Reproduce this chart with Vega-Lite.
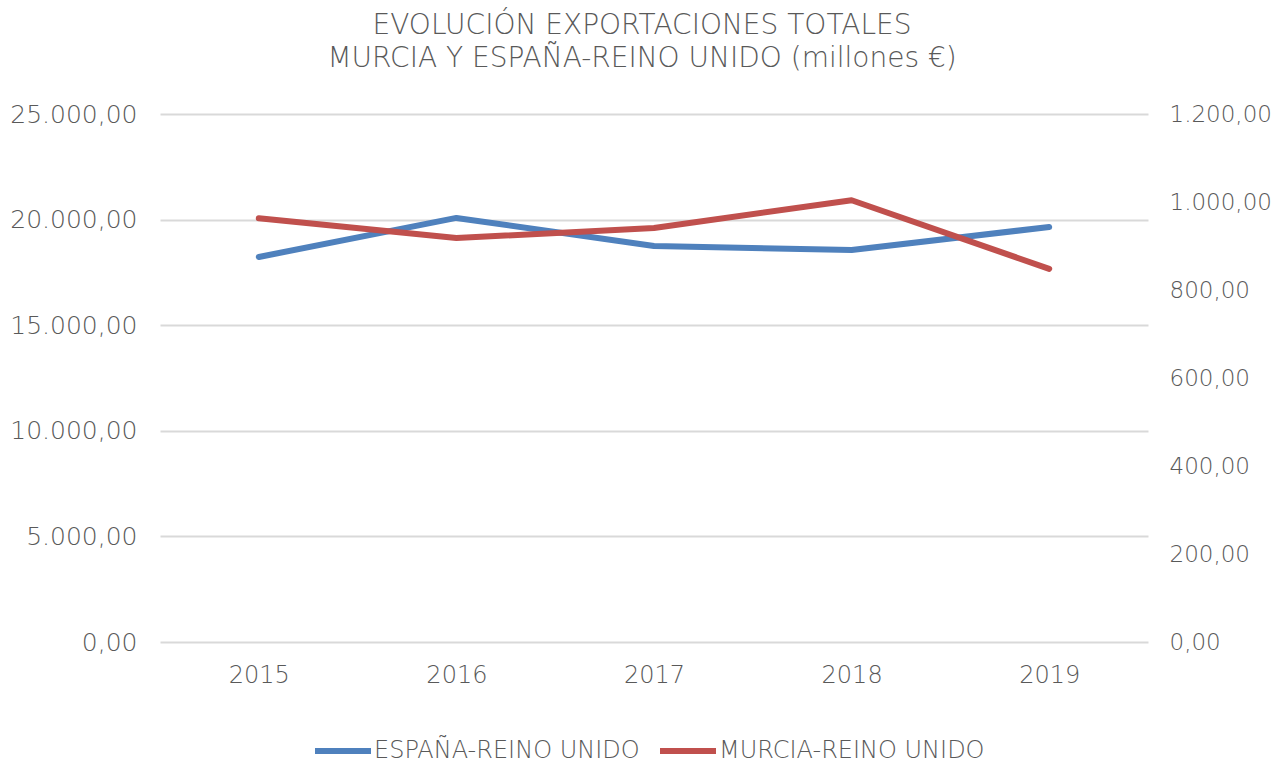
{
  "$schema": "https://vega.github.io/schema/vega-lite/v6.json",
  "autosize": "none",
  "width": 988,
  "height": 528,
  "padding": {"left": 160, "top": 114, "right": 128, "bottom": 121},
  "background": "#ffffff",
  "config": {
    "locale": {"number": {"decimal": ",", "thousands": ".", "grouping": [3], "currency": ["", " €"]}},
    "font": "DejaVu Sans",
    "view": {"stroke": null},
    "axis": {"labelFont": "DejaVu Sans", "labelFontWeight": 200, "labelFontSize": 24, "labelColor": "#595959", "domain": false, "ticks": false, "title": null},
    "legend": {"labelFont": "DejaVu Sans", "labelFontWeight": 200, "labelFontSize": 24, "labelColor": "#595959", "labelLimit": 500}
  },
  "title": {
    "text": ["EVOLUCIÓN EXPORTACIONES TOTALES", "MURCIA Y ESPAÑA-REINO UNIDO (millones €)"],
    "font": "DejaVu Sans",
    "fontWeight": 200,
    "fontSize": 28,
    "lineHeight": 33,
    "color": "#595959",
    "anchor": "middle",
    "frame": "group",
    "dx": -12,
    "offset": 29
  },
  "data": {
    "values": [
      {"year": "2015", "serie": "ESPAÑA-REINO UNIDO", "value": 18230},
      {"year": "2016", "serie": "ESPAÑA-REINO UNIDO", "value": 20080},
      {"year": "2017", "serie": "ESPAÑA-REINO UNIDO", "value": 18750},
      {"year": "2018", "serie": "ESPAÑA-REINO UNIDO", "value": 18560},
      {"year": "2019", "serie": "ESPAÑA-REINO UNIDO", "value": 19650},
      {"year": "2015", "serie": "MURCIA-REINO UNIDO", "value": 963},
      {"year": "2016", "serie": "MURCIA-REINO UNIDO", "value": 918},
      {"year": "2017", "serie": "MURCIA-REINO UNIDO", "value": 941},
      {"year": "2018", "serie": "MURCIA-REINO UNIDO", "value": 1004},
      {"year": "2019", "serie": "MURCIA-REINO UNIDO", "value": 848}
    ]
  },
  "encoding": {
    "x": {
      "field": "year", "type": "ordinal",
      "scale": {"type": "point", "padding": 0.5},
      "axis": {"labelAngle": 0, "labelPadding": 21, "grid": false}
    },
    "color": {
      "field": "serie", "type": "nominal",
      "scale": {"domain": ["ESPAÑA-REINO UNIDO", "MURCIA-REINO UNIDO"], "range": ["#4F81BD", "#C0504D"]},
      "legend": {
        "title": null, "orient": "none", "direction": "horizontal",
        "legendX": 152, "legendY": 606,
        "symbolType": "stroke", "symbolSize": 3136, "symbolStrokeWidth": 6,
        "labelOffset": 0, "columnPadding": 8
      }
    }
  },
  "layer": [
    {
      "transform": [{"filter": "datum.serie === 'ESPAÑA-REINO UNIDO'"}],
      "mark": {"type": "line", "strokeWidth": 6, "strokeCap": "round", "strokeJoin": "round"},
      "encoding": {
        "y": {
          "field": "value", "type": "quantitative",
          "scale": {"domain": [0, 25000], "nice": false},
          "axis": {"orient": "left", "values": [0, 5000, 10000, 15000, 20000, 25000], "format": ",.2f", "labelPadding": 23, "labelFontSize": 25, "grid": true, "gridColor": "#D9D9D9", "gridWidth": 2}
        }
      }
    },
    {
      "transform": [{"filter": "datum.serie === 'MURCIA-REINO UNIDO'"}],
      "mark": {"type": "line", "strokeWidth": 6, "strokeCap": "round", "strokeJoin": "round"},
      "encoding": {
        "y": {
          "field": "value", "type": "quantitative",
          "scale": {"domain": [0, 1200], "nice": false},
          "axis": {"orient": "right", "values": [0, 200, 400, 600, 800, 1000, 1200], "format": ",.2f", "labelPadding": 21, "labelFontSize": 23, "grid": false}
        }
      }
    }
  ],
  "resolve": {"scale": {"y": "independent"}}
}
